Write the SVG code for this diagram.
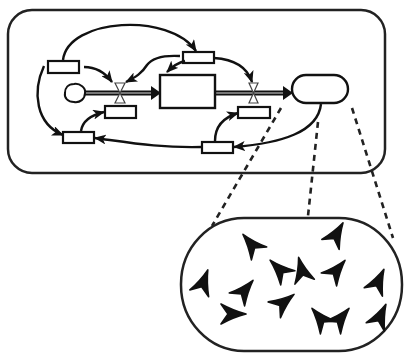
<svg xmlns="http://www.w3.org/2000/svg" width="405" height="354" viewBox="0 0 405 354">
  <style>
    .frame { fill: #fff; stroke: #222; stroke-width: 2.5; }
    .aux { fill: #fff; stroke: #111; stroke-width: 2.2; }
    .stock { fill: #fff; stroke: #111; stroke-width: 2.4; }
    .link { fill: none; stroke: #111; stroke-width: 2.4; marker-end: url(#head); }
    .pipe-outer { fill: none; stroke: #111; stroke-width: 5; }
    .pipe-inner { fill: none; stroke: #999; stroke-width: 1.4; }
    .valve { fill: #fff; stroke: #444; stroke-width: 1.2; }
    .dash { fill: none; stroke: #222; stroke-width: 2.6; stroke-dasharray: 6 5; }
    .agent { fill: #111; stroke: #111; stroke-width: 1.6; stroke-linejoin: round; }
  </style>
  <defs>
    <marker id="head" viewBox="0 0 12 10" refX="11" refY="5" markerWidth="12" markerHeight="10" markerUnits="userSpaceOnUse" orient="auto">
      <path d="M0,0 L12,5 L0,10 L3,5 Z" fill="#111"/>
    </marker>
    <path id="dart" d="M0,-14 Q3,-2 10,11 L0,4 L-10,11 Q-3,-2 0,-14 Z"/>
  </defs>

  <!-- model frame -->
  <rect id="frame" class="frame" x="8" y="10" width="377" height="163" rx="24" ry="24"/>

  <!-- flow pipes -->
  <g id="pipes">
    <line class="pipe-outer" x1="84" y1="93" x2="155" y2="93"/>
    <line class="pipe-inner" x1="84" y1="93" x2="152" y2="93"/>
    <path d="M151,86 L161,93 L151,100 Z" fill="#111"/>
    <line class="pipe-outer" x1="215" y1="93" x2="287" y2="93"/>
    <line class="pipe-inner" x1="215" y1="93" x2="284" y2="93"/>
    <path d="M283,86 L293,93 L283,100 Z" fill="#111"/>
  </g>

  <!-- source cloud -->
  <g id="cloud">
    <path d="M74,84 C80,83 86,88 85,93 C85,99 80,103 74,102 C68,102 64,98 65,93 C65,88 68,84 74,84 Z" fill="#fff" stroke="#111" stroke-width="2"/>
  </g>

  <!-- valves -->
  <g id="valve-in">
    <path class="valve" d="M115,83 L125,83 L120,93 Z M115,103 L125,103 L120,93 Z"/>
  </g>
  <g id="valve-out">
    <path class="valve" d="M249,83 L258,83 L253.5,93 Z M249,103 L258,103 L253.5,93 Z"/>
  </g>

  <!-- stock -->
  <g id="stock">
    <rect class="stock" x="160" y="75" width="55" height="33"/>
  </g>

  <!-- agent population node -->
  <g id="population">
    <rect class="stock" x="292" y="75" width="56" height="28" rx="14" ry="14"/>
  </g>

  <!-- auxiliaries -->
  <g id="aux-1"><rect class="aux" x="48" y="61" width="31" height="12"/></g>
  <g id="aux-2"><rect class="aux" x="105" y="106" width="31" height="12"/></g>
  <g id="aux-3"><rect class="aux" x="63" y="132" width="31" height="11"/></g>
  <g id="aux-4"><rect class="aux" x="183" y="52" width="31" height="11"/></g>
  <g id="aux-5"><rect class="aux" x="238" y="107" width="32" height="11"/></g>
  <g id="aux-6"><rect class="aux" x="202" y="142" width="31" height="11"/></g>

  <!-- information links -->
  <g id="connectors">
    <path class="link" d="M63,60 C68,18 170,12 196,51"/>
    <path class="link" d="M84,67 Q101,67 112,82"/>
    <path class="link" d="M180,56 C162,55 152,58 147,65 C142,73 136,77 126,82"/>
    <path class="link" d="M185,61 Q176,63 167,72"/>
    <path class="link" d="M214,58 Q245,60 252,82"/>
    <path class="link" d="M321,104 C318,132 282,143 234,147"/>
    <path class="link" d="M215,141 Q215,120 238,113"/>
    <path class="link" d="M202,147 C160,148 132,143 95,138"/>
    <path class="link" d="M81,131 Q83,117 104,112"/>
    <path class="link" d="M44,66 C32,92 36,124 63,135"/>
  </g>

  <!-- zoom lines to the agent view -->
  <g id="zoom-lines">
    <line class="dash" x1="281" y1="108" x2="212" y2="226"/>
    <line class="dash" x1="318" y1="122" x2="308" y2="216"/>
    <line class="dash" x1="352" y1="108" x2="393" y2="238"/>
  </g>

  <!-- agent view -->
  <g id="agent-view">
    <rect class="frame" x="181" y="218" width="221" height="133" rx="63" ry="66"/>
    <g class="agent">
      <use href="#dart" transform="translate(252,245) rotate(-40)"/>
      <use href="#dart" transform="translate(203,283) rotate(20)"/>
      <use href="#dart" transform="translate(244,291) rotate(40)"/>
      <use href="#dart" transform="translate(232,314) rotate(90)"/>
      <use href="#dart" transform="translate(280,270) rotate(-45)"/>
      <use href="#dart" transform="translate(302,271) rotate(-14)"/>
      <use href="#dart" transform="translate(283,303) rotate(52)"/>
      <use href="#dart" transform="translate(321,319) rotate(-40)"/>
      <use href="#dart" transform="translate(340,319) rotate(40)"/>
      <use href="#dart" transform="translate(336,271) rotate(40)"/>
      <use href="#dart" transform="translate(336,235) rotate(30)"/>
      <use href="#dart" transform="translate(378,282) rotate(25)"/>
      <use href="#dart" transform="translate(380,317) rotate(25)"/>
    </g>
  </g>
</svg>
